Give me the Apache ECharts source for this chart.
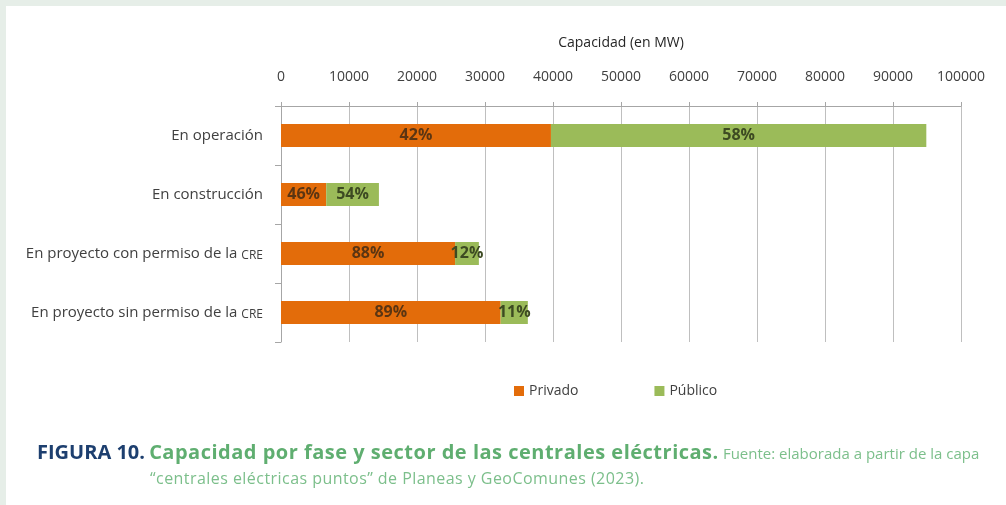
<!DOCTYPE html>
<html>
<head>
<meta charset="utf-8">
<script src="https://cdn.jsdelivr.net/npm/echarts@6/dist/echarts.min.js"></script>
<style>
  html, body { margin: 0; padding: 0; background: #e6eee8; }
  .frame { position: absolute; left: 6px; top: 6px; width: 1000px; height: 499px; background: #fff; }
  #chart { position: absolute; left: 0; top: 0; width: 1006px; height: 505px; }
  .cap { position: absolute; font-family: "Open Sans", sans-serif; white-space: nowrap; color: #7cbf8b; }
  .cap b.fig { color: #1d3f6f; font-size: 20px; }
  .cap b.tit { color: #5fae70; font-size: 20px; letter-spacing: 0.5px; }
  .cap span.src { font-size: 15px; }
</style>
</head>
<body>
<div class="frame"></div>
<div id="chart"></div>
<div class="cap" style="left:37px; top:438px;"><b class="fig">FIGURA 10.</b> <b class="tit">Capacidad por fase y sector de las centrales eléctricas.</b> <span class="src">Fuente: elaborada a partir de la capa</span></div>
<div class="cap" style="left:150px; top:467px; font-size:16px; letter-spacing:0.45px;">“centrales eléctricas puntos” de Planeas y GeoComunes (2023).</div>
<script>
const categories = [
  "En operación",
  "En construcción",
  "En proyecto con permiso de la{s|CRE}",
  "En proyecto sin permiso de la{s|CRE}"
];
const privado = [39700, 6650, 25600, 32300];
const publico = [55200, 7750, 3500, 4000];
const privadoPct = ["42%", "46%", "88%", "89%"];
const publicoPct = ["58%", "54%", "12%", "11%"];
const xTicks = { min: 0, max: 100000, interval: 10000 };

const chart = echarts.init(document.getElementById("chart"));
const font = '"Open Sans", sans-serif';

chart.setOption({
  animation: false,
  textStyle: { fontFamily: font },
  grid: { left: 281, right: 45, top: 106, height: 236 },
  legend: {
    left: 509,
    top: 379,
    itemWidth: 10,
    itemHeight: 10,
    itemGap: 76,
    icon: "rect",
    textStyle: { fontFamily: font, fontSize: 14, color: "#404040" },
    data: ["Privado", "Público"]
  },
  xAxis: {
    type: "value",
    position: "top",
    min: xTicks.min,
    max: xTicks.max,
    interval: xTicks.interval,
    name: "Capacidad (en MW)",
    nameLocation: "middle",
    nameGap: 56,
    nameTextStyle: { fontFamily: font, fontSize: 14, color: "#262626" },
    axisLine: { show: true, lineStyle: { color: "#a6a6a6" } },
    axisTick: { show: true, length: 4, lineStyle: { color: "#a6a6a6" } },
    axisLabel: { margin: 22, fontFamily: font, fontSize: 14, color: "#404040", formatter: v => String(v) },
    splitLine: { show: true, lineStyle: { color: "#bfbfbf" } }
  },
  yAxis: {
    type: "category",
    inverse: true,
    data: categories,
    axisLine: { show: true, lineStyle: { color: "#a6a6a6" } },
    axisTick: { show: true, length: 6, lineStyle: { color: "#a6a6a6" } },
    axisLabel: {
      margin: 18,
      fontFamily: font,
      fontSize: 15,
      color: "#404040",
      rich: { s: { fontFamily: font, fontSize: 12, color: "#404040", padding: [4, 0, 0, 4] } }
    }
  },
  series: [
    {
      name: "Privado",
      type: "bar",
      stack: "total",
      barWidth: 23,
      data: privado,
      itemStyle: { color: "#e36c0a" },
      label: {
        show: true,
        position: "inside",
        formatter: p => privadoPct[p.dataIndex],
        fontFamily: font,
        fontSize: 16,
        fontWeight: "bold",
        color: "#5b3512"
      }
    },
    {
      name: "Público",
      type: "bar",
      stack: "total",
      barWidth: 23,
      data: publico,
      itemStyle: { color: "#9bbb59" },
      label: {
        show: true,
        position: "inside",
        formatter: p => publicoPct[p.dataIndex],
        fontFamily: font,
        fontSize: 16,
        fontWeight: "bold",
        color: "#3d4a22"
      }
    }
  ]
});
</script>
</body>
</html>
